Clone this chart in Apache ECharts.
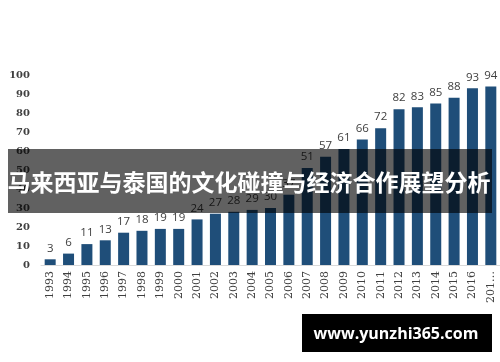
<!DOCTYPE html>
<html><head><meta charset="utf-8">
<script src="https://cdn.jsdelivr.net/npm/echarts@6/dist/echarts.min.js"></script>
<style>html,body{margin:0;padding:0;background:#fff}#c{width:500px;height:362px}</style>
</head><body><div id="c"></div>
<script>
const years = ["1993","1994","1995","1996","1997","1998","1999","2000","2001","2002","2003","2004","2005","2006","2007","2008","2009","2010","2011","2012","2013","2014","2015","2016","2017"];
const tickLabels = ["1993","1994","1995","1996","1997","1998","1999","2000","2001","2002","2003","2004","2005","2006","2007","2008","2009","2010","2011","2012","2013","2014","2015","2016","201…"];
const values = [3,6,11,13,17,18,19,19,24,27,28,29,30,37,51,57,61,66,72,82,83,85,88,93,94];
const yTicks = [0,10,20,30,40,50,60,70,80,90,100];
const title = "马来西亚与泰国的文化碰撞与经济合作展望分析";
const watermark = "www.yunzhi365.com";

const chart = echarts.init(document.getElementById('c'));
chart.setOption({
  animation:false,
  grid:{left:41,right:0,top:75,bottom:97},
  xAxis:{type:'category',data:years,
    axisLine:{lineStyle:{color:'#d9d9d9'}},axisTick:{show:false},
    axisLabel:{rotate:90,interval:0,margin:6,color:'#404040',fontFamily:'DejaVu Serif',fontSize:11,
      formatter:(v,i)=>tickLabels[i]}},
  yAxis:{type:'value',min:yTicks[0],max:yTicks[yTicks.length-1],interval:10,
    splitLine:{show:false},axisLine:{show:false},axisTick:{show:false},
    axisLabel:{margin:11,color:'#404040',fontFamily:'DejaVu Serif',fontWeight:'bold',fontSize:10}},
  series:[{type:'bar',data:values,barWidth:11,
    itemStyle:{color:'#1f4e79'},
    label:{show:true,position:'top',distance:5,color:'#404040',fontFamily:'Open Sans',fontSize:11.5}}],
  graphic:[
    {type:'rect',shape:{x:8,y:149,width:484,height:64},style:{fill:'rgba(0,0,0,0.62)'},z:100},
    {type:'text',x:249,y:182,style:{text:title,fill:'#fff',font:'bold 23px "Noto Sans CJK SC"',textAlign:'center',textVerticalAlign:'middle'},z:101},
    {type:'rect',shape:{x:302,y:314,width:190,height:38},style:{fill:'#000'},z:100},
    {type:'text',x:396,y:334,style:{text:watermark,fill:'#fff',font:'bold 16px "Open Sans"',textAlign:'center',textVerticalAlign:'middle'},z:101}
  ]
});
</script></body></html>
